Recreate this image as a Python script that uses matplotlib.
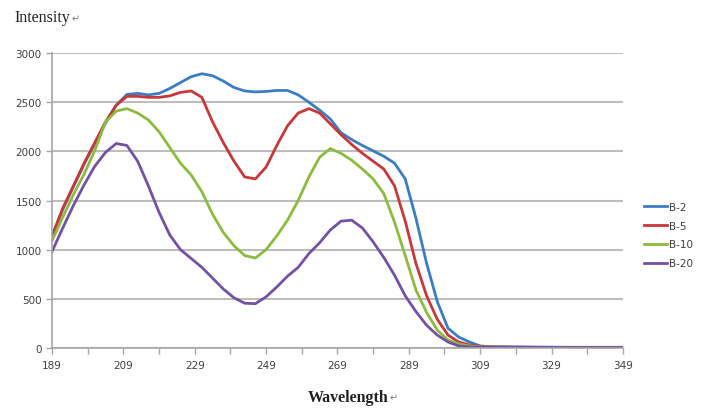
import matplotlib
matplotlib.use('Agg')
import matplotlib.pyplot as plt

# wavelength grid (nm) and intensities
wavelength = [189, 192, 195, 198, 201, 204, 207, 210, 213, 216, 219, 222, 225, 228,
              231, 234, 237, 240, 243, 246, 249, 252, 255, 258, 261, 264, 267, 270,
              273, 276, 279, 282, 285, 288, 291, 294, 297, 300, 303, 306, 309,
              312, 318, 325, 335, 349]

b2 = [1130, 1410, 1640, 1870, 2080, 2290, 2470, 2580, 2590, 2575, 2590, 2640, 2700, 2760,
      2790, 2770, 2716, 2650, 2615, 2605, 2610, 2620, 2620, 2575, 2500, 2420, 2330, 2190,
      2120, 2060, 2005, 1950, 1880, 1720, 1320, 860, 470, 200, 110, 60, 20,
      12, 10, 8, 6, 6]

b5 = [1140, 1420, 1650, 1880, 2090, 2300, 2470, 2560, 2560, 2550, 2550, 2565, 2600, 2615,
      2550, 2300, 2090, 1900, 1740, 1720, 1840, 2060, 2260, 2390, 2435, 2390, 2280, 2170,
      2070, 1980, 1900, 1820, 1650, 1290, 860, 530, 290, 130, 60, 30, 15,
      10, 8, 6, 5, 5]

b10 = [1090, 1330, 1560, 1770, 2010, 2300, 2410, 2435, 2390, 2320, 2200, 2040, 1880, 1760,
       1590, 1360, 1175, 1040, 940, 915, 1000, 1140, 1300, 1500, 1740, 1940, 2029, 1980,
       1910, 1820, 1720, 1570, 1280, 940, 590, 360, 180, 80, 40, 20, 10,
       8, 6, 5, 5, 5]

b20 = [980, 1220, 1450, 1660, 1850, 1990, 2080, 2060, 1900, 1650, 1380, 1150, 1000, 910,
       820, 710, 600, 510, 455, 450, 520, 620, 730, 820, 960, 1070, 1200, 1290,
       1300, 1220, 1080, 920, 740, 530, 370, 230, 130, 60, 20, 10, 8,
       6, 5, 5, 5, 5]

series = ['B-2', 'B-5', 'B-10', 'B-20']
colors = ['#3B7DC4', '#C8373A', '#8DBB3E', '#7352A5']

fig = plt.figure(figsize=(7.03, 4.10), dpi=100)
ax = fig.add_axes([0.074, 0.149, 0.812, 0.719])

for name, ys, c in zip(series, [b2, b5, b10, b20], colors):
    ax.plot(wavelength, ys, color=c, lw=2, label=name)

ax.set_xlim(189, 349)
ax.set_ylim(0, 3000)
ax.set_yticks(range(0, 3001, 500))
ax.set_xticks(range(189, 350, 20))
ax.set_xticks(range(199, 350, 20), minor=True)
ax.yaxis.grid(True, color='#BDBDBD', lw=1.5)
ax.set_axisbelow(True)

for s in ['top', 'right']:
    ax.spines[s].set_visible(False)
for s in ['left', 'bottom']:
    ax.spines[s].set_color('#A6A6A6')
    ax.spines[s].set_linewidth(1.2)

ax.tick_params(axis='both', which='both', colors='#A6A6A6', labelcolor='#404040',
               labelsize=7.5, length=4, width=1)
ax.tick_params(axis='x', pad=5)

leg = ax.legend(loc='center left', bbox_to_anchor=(1.02, 0.383), frameon=False,
                fontsize=7.5, handlelength=2.2, handletextpad=0.2, labelspacing=0.85)
for t in leg.get_texts():
    t.set_color('#404040')

# axis titles with the small return-arrow mark
t1 = fig.text(0.021, 0.955, 'Intensity', family='Liberation Serif', fontsize=11.5,
              va='center', color='#222222')
t2 = fig.text(0.495, 0.03, 'Wavelength', family='Liberation Serif', fontsize=11.5,
              va='center', ha='center', color='#222222', weight='bold')

fig.canvas.draw()
r = fig.canvas.get_renderer()
inv = fig.transFigure.inverted()
for t in [t1, t2]:
    bb = t.get_window_extent(r)
    x, y = inv.transform((bb.x1 + 1, bb.y0 + 2))
    fig.text(x, y, '\u21b5', family='DejaVu Sans', fontsize=7, color='#808080', va='bottom')

fig.savefig('out.png', dpi=100)
